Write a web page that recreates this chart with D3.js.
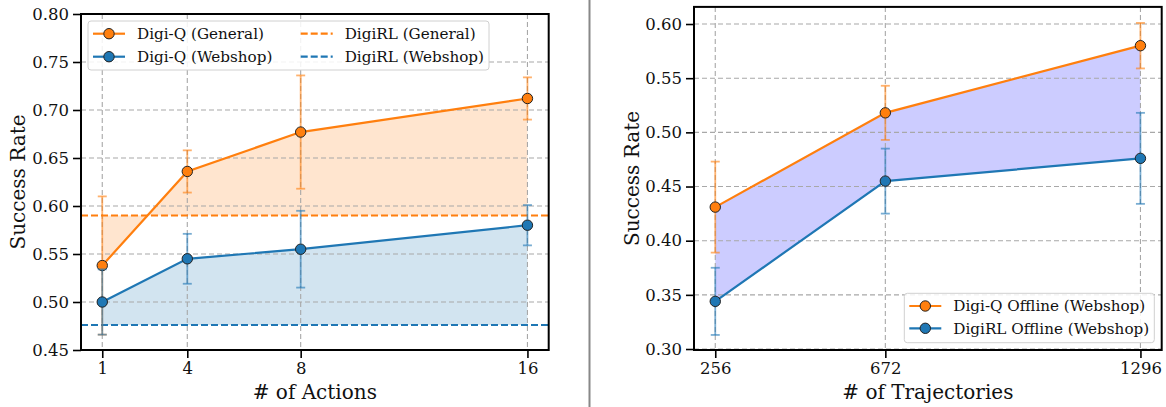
<!DOCTYPE html>
<html>
<head>
<meta charset="utf-8">
<script src="https://cdn.jsdelivr.net/npm/d3@7"></script>
<style>
  body { margin: 0; background: #fff; }
  svg { display: block; font-family: "DejaVu Serif", serif; }
</style>
</head>
<body>
<div id="chart"></div>
<script>
// left panel: number of actions
const actions = [1, 4, 8, 16];
const digiqGeneral = [0.538, 0.636, 0.677, 0.712];
const digiqGeneralErr = [0.072, 0.022, 0.059, 0.022];
const digiqWebshop = [0.500, 0.545, 0.555, 0.580];
const digiqWebshopErr = [0.034, 0.026, 0.040, 0.021];
const digirlGeneral = 0.590;
const digirlWebshop = 0.476;
const leftYTicks = [0.45, 0.50, 0.55, 0.60, 0.65, 0.70, 0.75, 0.80];

// right panel: number of trajectories
const trajectories = [256, 672, 1296];
const digiqOffline = [0.431, 0.518, 0.580];
const digiqOfflineErr = [0.042, 0.025, 0.021];
const digirlOffline = [0.344, 0.455, 0.476];
const digirlOfflineErr = [0.031, 0.030, 0.042];
const rightYTicks = [0.30, 0.35, 0.40, 0.45, 0.50, 0.55, 0.60];

const ORANGE = "#ff7f0e";
const BLUE = "#1f77b4";

const svg = d3.select("#chart")
    .append("svg")
    .attr("width", 1166)
    .attr("height", 407);

// separator between the two panels
svg.append("line")
    .attr("x1", 589.5).attr("x2", 589.5)
    .attr("y1", 0).attr("y2", 407)
    .attr("stroke", "#888").attr("stroke-width", 2);

function drawPanel(opts) {
    const x = opts.x, y = opts.y;
    const g = svg.append("g");
    const [x0, x1] = x.range();
    const [yb, yt] = y.range();

    // fills
    opts.fills.forEach(f => {
        const area = d3.area()
            .x(d => x(d.x))
            .y0(d => y(d.lo))
            .y1(d => y(d.hi));
        g.append("path")
            .datum(f.data)
            .attr("d", area)
            .attr("fill", f.color)
            .attr("fill-opacity", f.opacity);
    });

    // grid
    const grid = g.append("g")
        .attr("stroke", "#a8a8a8")
        .attr("stroke-width", 1.1)
        .attr("stroke-dasharray", "5,3");
    opts.xTicks.forEach(t => {
        grid.append("line")
            .attr("x1", x(t)).attr("x2", x(t))
            .attr("y1", yt).attr("y2", yb);
    });
    opts.yTicks.forEach(t => {
        grid.append("line")
            .attr("x1", x0).attr("x2", x1)
            .attr("y1", y(t)).attr("y2", y(t));
    });

    // horizontal baselines
    (opts.hlines || []).forEach(h => {
        g.append("line")
            .attr("x1", x0).attr("x2", x1)
            .attr("y1", y(h.value)).attr("y2", y(h.value))
            .attr("stroke", h.color)
            .attr("stroke-width", 2)
            .attr("stroke-dasharray", "7,3");
    });

    // series with error bars
    opts.series.forEach(s => {
        const pts = s.xs.map((xv, i) => ({ x: xv, y: s.ys[i], e: s.err[i] }));
        const eb = g.append("g")
            .attr("stroke", s.color)
            .attr("stroke-opacity", 0.6)
            .attr("stroke-width", 1.8);
        pts.forEach(p => {
            const cx = x(p.x);
            eb.append("line")
                .attr("x1", cx).attr("x2", cx)
                .attr("y1", y(p.y - p.e)).attr("y2", y(p.y + p.e));
            [p.y - p.e, p.y + p.e].forEach(v => {
                eb.append("line")
                    .attr("x1", cx - 4.5).attr("x2", cx + 4.5)
                    .attr("y1", y(v)).attr("y2", y(v));
            });
        });
        g.append("path")
            .datum(pts)
            .attr("fill", "none")
            .attr("stroke", s.color)
            .attr("stroke-width", 2.2)
            .attr("d", d3.line().x(d => x(d.x)).y(d => y(d.y)));
        g.selectAll(null)
            .data(pts)
            .enter()
            .append("circle")
            .attr("cx", d => x(d.x))
            .attr("cy", d => y(d.y))
            .attr("r", 5.2)
            .attr("fill", s.color)
            .attr("stroke", "#222")
            .attr("stroke-width", 1);
    });

    // axes
    const xAxis = d3.axisBottom(x)
        .tickValues(opts.xTicks)
        .tickSize(8)
        .tickPadding(4)
        .tickFormat(d3.format("d"));
    const yAxis = d3.axisLeft(y)
        .tickValues(opts.yTicks)
        .tickSize(8)
        .tickPadding(4)
        .tickFormat(d3.format(".2f"));

    const gx = g.append("g")
        .attr("transform", `translate(0,${yb})`)
        .call(xAxis);
    const gy = g.append("g")
        .attr("transform", `translate(${x0},0)`)
        .call(yAxis);
    [gx, gy].forEach(a => {
        a.select(".domain").remove();
        a.selectAll(".tick line").attr("stroke", "#000").attr("stroke-width", 1.6);
        a.selectAll(".tick text")
            .attr("fill", "#111")
            .style("font-family", "DejaVu Serif")
            .style("font-size", "16.5px");
    });

    // spines
    g.append("rect")
        .attr("x", x0).attr("y", yt)
        .attr("width", x1 - x0).attr("height", yb - yt)
        .attr("fill", "none")
        .attr("stroke", "#000")
        .attr("stroke-width", 2);

    // axis titles
    g.append("text")
        .attr("x", (x0 + x1) / 2)
        .attr("y", 399)
        .attr("text-anchor", "middle")
        .style("font-size", "20px")
        .attr("fill", "#111")
        .text(opts.xLabel);
    g.append("text")
        .attr("transform", `translate(${opts.yLabelX},${(yt + yb) / 2}) rotate(-90)`)
        .attr("text-anchor", "middle")
        .style("font-size", "20px")
        .attr("fill", "#111")
        .text("Success Rate");

    // legend
    const L = opts.legend;
    const lg = g.append("g");
    lg.append("rect")
        .attr("x", L.x).attr("y", L.y)
        .attr("width", L.w).attr("height", L.h)
        .attr("rx", 3)
        .attr("fill", "#fff").attr("fill-opacity", 0.85)
        .attr("stroke", "#d0d0d0").attr("stroke-width", 1);
    L.items.forEach(it => {
        const hx = L.x + it.col * L.colW + 5;
        const hy = L.y + L.pad + it.row * L.rowH;
        lg.append("line")
            .attr("x1", hx).attr("x2", hx + 32)
            .attr("y1", hy).attr("y2", hy)
            .attr("stroke", it.color)
            .attr("stroke-width", 2.2)
            .attr("stroke-dasharray", it.dashed ? "7,3" : null);
        if (!it.dashed) {
            lg.append("circle")
                .attr("cx", hx + 16).attr("cy", hy).attr("r", 5.2)
                .attr("fill", it.color)
                .attr("stroke", "#222").attr("stroke-width", 1);
        }
        lg.append("text")
            .attr("x", hx + 44)
            .attr("y", hy)
            .attr("dy", "0.35em")
            .style("font-size", "15.2px")
            .attr("fill", "#111")
            .text(it.label);
    });
}

// left panel
const xLeft = d3.scaleLinear().domain([0.25, 16.75]).range([81, 548.7]);
const yLeft = d3.scaleLinear().domain([0.45, 0.80]).range([350, 14]);

drawPanel({
    x: xLeft, y: yLeft,
    xTicks: actions, yTicks: leftYTicks,
    xLabel: "# of Actions", yLabelX: 25,
    fills: [
        { data: actions.map((a, i) => ({ x: a, lo: digirlGeneral, hi: digiqGeneral[i] })), color: ORANGE, opacity: 0.2 },
        { data: actions.map((a, i) => ({ x: a, lo: digirlWebshop, hi: digiqWebshop[i] })), color: BLUE, opacity: 0.2 }
    ],
    hlines: [
        { value: digirlGeneral, color: ORANGE },
        { value: digirlWebshop, color: BLUE }
    ],
    series: [
        { xs: actions, ys: digiqGeneral, err: digiqGeneralErr, color: ORANGE },
        { xs: actions, ys: digiqWebshop, err: digiqWebshopErr, color: BLUE }
    ],
    legend: {
        x: 88, y: 21, w: 401, h: 49, pad: 12.7, rowH: 23, colW: 207.7,
        items: [
            { label: "Digi-Q (General)", color: ORANGE, col: 0, row: 0 },
            { label: "Digi-Q (Webshop)", color: BLUE, col: 0, row: 1 },
            { label: "DigiRL (General)", color: ORANGE, col: 1, row: 0, dashed: true },
            { label: "DigiRL (Webshop)", color: BLUE, col: 1, row: 1, dashed: true }
        ]
    }
});

// right panel
const xRight = d3.scaleLinear().domain([204, 1348]).range([694, 1161.7]);
const yRight = d3.scaleLinear().domain([0.2991, 0.6158]).range([350, 6.9]);

drawPanel({
    x: xRight, y: yRight,
    xTicks: trajectories, yTicks: rightYTicks,
    xLabel: "# of Trajectories", yLabelX: 638.5,
    fills: [
        { data: trajectories.map((t, i) => ({ x: t, lo: digirlOffline[i], hi: digiqOffline[i] })), color: "#0000ff", opacity: 0.2 }
    ],
    hlines: [],
    series: [
        { xs: trajectories, ys: digiqOffline, err: digiqOfflineErr, color: ORANGE },
        { xs: trajectories, ys: digirlOffline, err: digirlOfflineErr, color: BLUE }
    ],
    legend: {
        x: 904.3, y: 293.3, w: 250, h: 49.4, pad: 12.7, rowH: 22.3, colW: 0,
        items: [
            { label: "Digi-Q Offline (Webshop)", color: ORANGE, col: 0, row: 0 },
            { label: "DigiRL Offline (Webshop)", color: BLUE, col: 0, row: 1 }
        ]
    }
});
</script>
</body>
</html>
